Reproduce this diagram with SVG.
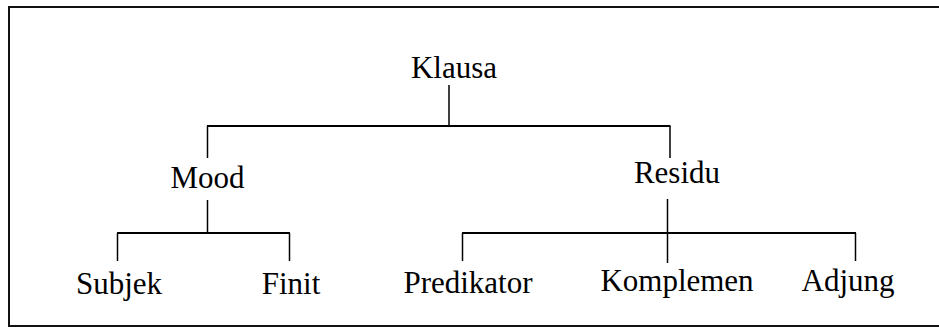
<svg xmlns="http://www.w3.org/2000/svg" width="939" height="327" viewBox="0 0 939 327">
<style>
text{font-family:"Liberation Serif","Times New Roman",serif;font-size:31px;fill:#000;text-anchor:middle}
.h{stroke:#000;stroke-width:2;fill:none}
.v{stroke:#000;stroke-width:1.5;fill:none}
</style>
<rect x="9" y="7" width="940" height="319" fill="#fff" stroke="#111" stroke-width="2"/>
<g id="connectors">
<line class="v" x1="449" y1="85" x2="449" y2="126"/>
<line class="h" x1="207" y1="126" x2="670.5" y2="126"/>
<line class="v" x1="207.5" y1="126" x2="207.5" y2="158"/>
<line class="v" x1="670" y1="126" x2="670" y2="158"/>
<line class="v" x1="207.5" y1="200" x2="207.5" y2="233"/>
<line class="h" x1="117" y1="233" x2="290" y2="233"/>
<line class="v" x1="117.5" y1="233" x2="117.5" y2="261"/>
<line class="v" x1="289.5" y1="233" x2="289.5" y2="261"/>
<line class="v" x1="667.5" y1="199" x2="667.5" y2="263"/>
<line class="h" x1="462" y1="233" x2="856" y2="233"/>
<line class="v" x1="462.5" y1="233" x2="462.5" y2="261"/>
<line class="v" x1="855.5" y1="233" x2="855.5" y2="261"/>
</g>
<g id="klausa"><text x="454" y="78">Klausa</text></g>
<g id="mood"><text x="207.5" y="188">Mood</text></g>
<g id="residu"><text x="677" y="183">Residu</text></g>
<g id="subjek"><text x="119" y="294">Subjek</text></g>
<g id="finit"><text x="291" y="294">Finit</text></g>
<g id="predikator"><text x="468" y="293">Predikator</text></g>
<g id="komplemen"><text x="677" y="291">Komplemen</text></g>
<g id="adjung"><text x="848" y="291">Adjung</text></g>
</svg>
